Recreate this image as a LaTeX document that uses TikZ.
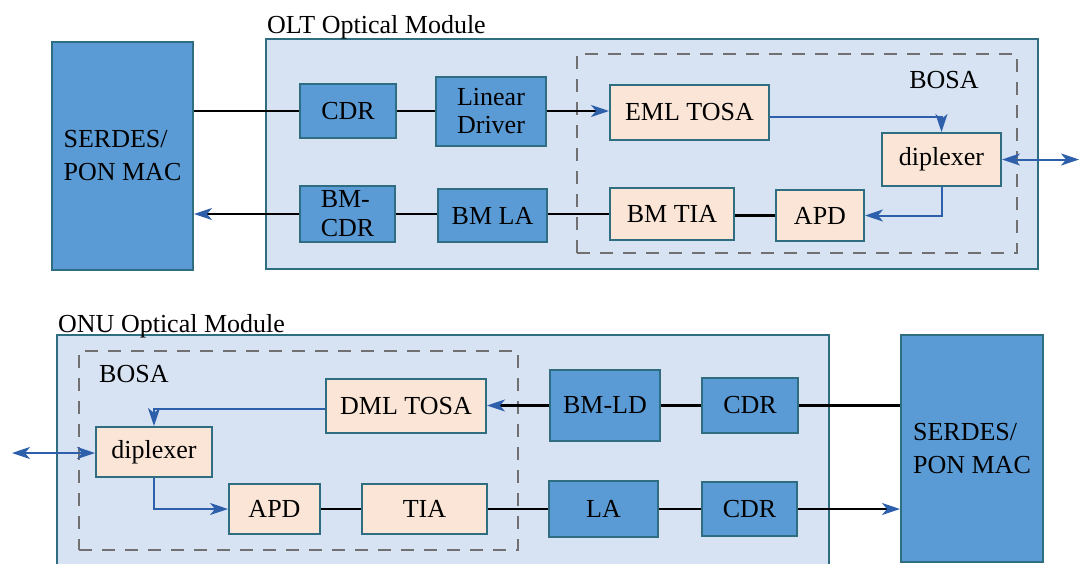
\documentclass[tikz,border=0pt]{standalone}
\usepackage{fontspec}
\setmainfont{Liberation Serif}
\usetikzlibrary{arrows.meta,calc}
\definecolor{boxblue}{RGB}{91,155,213}
\definecolor{edgeteal}{RGB}{46,110,128}
\definecolor{modbg}{RGB}{215,226,243}
\definecolor{peach}{RGB}{251,229,214}
\definecolor{arrowblue}{RGB}{46,95,170}
\definecolor{dashgray}{RGB}{112,112,112}
\begin{document}
\begin{tikzpicture}[x=1pt,y=-1pt,
  every node/.style={font=\fontsize{26}{29}\selectfont, inner sep=0pt},
  basebox/.style={draw=edgeteal, line width=2pt, align=center},
  bluebox/.style={basebox, fill=boxblue},
  peachbox/.style={basebox, fill=peach},
  module/.style={draw=edgeteal, line width=2pt, fill=modbg},
  bosabox/.style={draw=dashgray, line width=2pt, dash pattern=on 13pt off 10pt},
  wire/.style={line width=2.2pt, black},
  fiber/.style={line width=2pt, draw=arrowblue},
  tipend/.style={-{Stealth[length=18pt,width=12pt,inset=5pt,color=arrowblue]}},
  tipboth/.style={{Stealth[length=18pt,width=12pt,inset=5pt,color=arrowblue]}-{Stealth[length=18pt,width=12pt,inset=5pt,color=arrowblue]}},
  serdes/.style={bluebox, align=left, font=\fontsize{26}{33}\selectfont}
]
\useasboundingbox (0,0) rectangle (1080,563);

% ---------- OLT ----------
\node[module, minimum width=772pt, minimum height=230pt] (olt) at (652,154) {};
\node[anchor=base west] (olttitle) at (267,33) {OLT Optical Module};
\node[bosabox, minimum width=440pt, minimum height=199pt] (bosa1) at (797,153.5) {};
\node[anchor=base] (bosa1lbl) at (944,88) {BOSA};

\node[serdes, minimum width=141pt, minimum height=228pt] (serdesL) at (122.5,156) {SERDES/\\PON MAC};
\node[bluebox, minimum width=96pt, minimum height=54pt] (cdr1) at (348,111) {CDR};
\node[bluebox, minimum width=110pt, minimum height=69pt, font=\fontsize{26}{28}\selectfont] (ld) at (491,111.5) {Linear\\Driver};
\node[peachbox, minimum width=159pt, minimum height=55pt] (eml) at (689.5,112.5) {EML TOSA};
\node[peachbox, minimum width=119pt, minimum height=53pt] (dip1) at (941.5,159.5) {diplexer};
\node[bluebox, minimum width=95pt, minimum height=56pt, align=left, font=\fontsize{26}{29}\selectfont] (bmcdr) at (347.5,214) {BM-\\CDR};
\node[bluebox, minimum width=109pt, minimum height=53pt] (bmla) at (492.5,215.5) {BM LA};
\node[peachbox, minimum width=124pt, minimum height=52pt] (bmtia) at (672,214) {BM TIA};
\node[peachbox, minimum width=88pt, minimum height=51pt] (apd1) at (820,215.5) {APD};
\coordinate (fiber1) at (1079,159.5);

\draw[wire] (serdesL.east |- cdr1.west) -- (cdr1.west);
\draw[wire] (cdr1.east) -- (ld.west |- cdr1.east);
\draw[wire, tipend] (ld.east |- cdr1.east) -- (eml.west |- cdr1.east);
\draw[fiber, tipend] ([yshift=-4pt]eml.east) -| (dip1.north);
\draw[fiber, tipend] (dip1.south) |- (apd1.east);
\draw[fiber, tipboth] (dip1.east) -- (fiber1);
\draw[wire] (apd1.west) -- (bmtia.east |- apd1.west);
\draw[wire] (bmtia.west) -- (bmla.east |- bmtia.west);
\draw[wire] (bmla.west |- bmcdr.east) -- (bmcdr.east);
\draw[wire, tipend] (bmcdr.west) -- (serdesL.east |- bmcdr.west);

% ---------- ONU ----------
\node[module, minimum width=772pt, minimum height=240pt] (onu) at (443,455) {};
\node[anchor=base west] (onutitle) at (58,332) {ONU Optical Module};
\node[bosabox, minimum width=439pt, minimum height=199pt] (bosa2) at (298.5,450.5) {};
\node[anchor=base west] (bosa2lbl) at (99,382) {BOSA};

\node[serdes, minimum width=142pt, minimum height=227pt] (serdesR) at (972,448.5) {SERDES/\\PON MAC};
\node[peachbox, minimum width=160pt, minimum height=54pt] (dml) at (406,406) {DML TOSA};
\node[peachbox, minimum width=116pt, minimum height=50pt] (dip2) at (154,452) {diplexer};
\node[peachbox, minimum width=91pt, minimum height=50pt] (apd2) at (274.5,509) {APD};
\node[peachbox, minimum width=125pt, minimum height=50pt] (tia) at (424.5,509) {TIA};
\node[bluebox, minimum width=110pt, minimum height=71pt] (bmld) at (605,405.5) {BM-LD};
\node[bluebox, minimum width=96pt, minimum height=55pt] (cdr2) at (750,405.5) {CDR};
\node[bluebox, minimum width=109pt, minimum height=56pt] (la) at (603.5,509) {LA};
\node[bluebox, minimum width=95pt, minimum height=54pt] (cdr3) at (749.5,509) {CDR};
\coordinate (fiber2) at (12,453);

\draw[wire] (serdesR.west |- cdr2.east) -- (cdr2.east);
\draw[wire] (cdr2.west) -- (bmld.east |- cdr2.west);
\draw[wire, tipend] (bmld.west |- cdr2.west) -- (dml.east |- cdr2.west);
\draw[fiber, tipend] ([yshift=-3pt]dml.west) -| (dip2.north);
\draw[fiber, tipboth] (fiber2) -- (dip2.west |- fiber2);
\draw[fiber, tipend] (dip2.south) |- (apd2.west);
\draw[wire] (apd2.east) -- (tia.west);
\draw[wire] (tia.east) -- (la.west);
\draw[wire] (la.east) -- (cdr3.west);
\draw[wire, tipend] (cdr3.east) -- (serdesR.west |- cdr3.east);
\end{tikzpicture}
\end{document}
